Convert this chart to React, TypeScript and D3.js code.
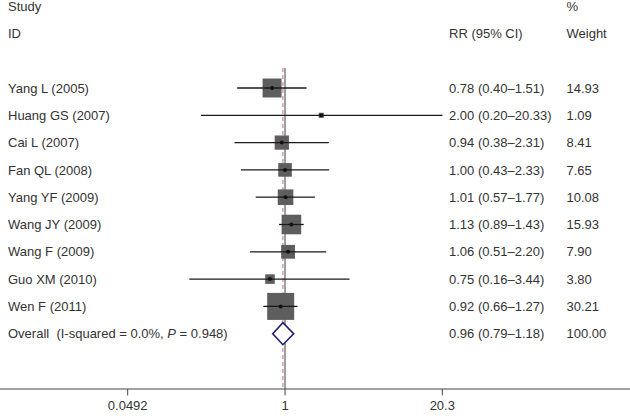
import React from "react";
import * as d3 from "d3";

const studies = [
  "Yang L (2005)",
  "Huang GS (2007)",
  "Cai L (2007)",
  "Fan QL (2008)",
  "Yang YF (2009)",
  "Wang JY (2009)",
  "Wang F (2009)",
  "Guo XM (2010)",
  "Wen F (2011)",
];
const rr = [0.78, 2.0, 0.94, 1.0, 1.01, 1.13, 1.06, 0.75, 0.92];
const lower = [0.4, 0.2, 0.38, 0.43, 0.57, 0.89, 0.51, 0.16, 0.66];
const upper = [1.51, 20.33, 2.31, 2.33, 1.77, 1.43, 2.2, 3.44, 1.27];
const weights = [14.93, 1.09, 8.41, 7.65, 10.08, 15.93, 7.9, 3.8, 30.21];
const overallRR = 0.96;
const overallLower = 0.79;
const overallUpper = 1.18;
const overallWeight = 100;
const overallLabel = "Overall  (I-squared = 0.0%, ";
const overallP = "0.948";
const tickValues = [0.0492, 1, 20.3];
const tickLabels = ["0.0492", "1", "20.3"];

const W = 630;
const H = 416;
const FONT = "'Liberation Sans', Arial, Helvetica, sans-serif";
const TEXT = "#333";

const fmt = (v: number) => v.toFixed(2);

export default function App() {
  const x = d3.scaleLog().domain([0.0492, 20.3]).range([127.7, 442.3]);
  const y = d3.scaleLinear().domain([0, 9]).range([88, 333.7]);
  const size = d3.scaleSqrt().domain([0, d3.max(weights) as number]).range([0, 27]);
  const axisY = 389;
  const lineTop = 68;
  const studyX = 8;
  const rrX = 449;
  const wX = 566.5;
  const textDy = 1.2;

  const oy = y(studies.length);
  const diamond = [
    [x(overallLower), oy],
    [x(overallRR), oy - 11],
    [x(overallUpper), oy],
    [x(overallRR), oy + 11],
  ];

  return (
    <div style={{ position: "absolute", left: 0, top: 0 }}>
      <svg width={W} height={H} style={{ display: "block", background: "#fff" }} fontFamily={FONT} fontSize={13}>
        {/* headers */}
        <text x={studyX} y={y(-3) + textDy} dominantBaseline="middle" fill={TEXT}>Study</text>
        <text x={studyX} y={y(-2) + textDy} dominantBaseline="middle" fill={TEXT}>ID</text>
        <text x={rrX} y={y(-2) + textDy} dominantBaseline="middle" fill={TEXT}>RR (95% CI)</text>
        <text x={wX} y={y(-3) + textDy} dominantBaseline="middle" fill={TEXT}>%</text>
        <text x={wX} y={y(-2) + textDy} dominantBaseline="middle" fill={TEXT}>Weight</text>

        {/* null line */}
        <line x1={x(1)} x2={x(1)} y1={lineTop} y2={axisY} stroke="#777" strokeWidth={1.4} />
        {/* overall dashed line */}
        <line
          x1={x(overallRR)}
          x2={x(overallRR)}
          y1={lineTop}
          y2={axisY}
          stroke="#c98a94"
          strokeWidth={1.2}
          strokeDasharray="4,3"
        />

        {studies.map((s, i) => {
          const cy = y(i);
          const sz = size(weights[i]);
          return (
            <g key={s}>
              <rect x={x(rr[i]) - sz / 2} y={cy - sz / 2} width={sz} height={sz} fill="#5e5e5e" />
              <line x1={x(lower[i])} x2={x(upper[i])} y1={cy} y2={cy} stroke="#1a1a1a" strokeWidth={1.3} />
              <circle cx={x(rr[i])} cy={cy} r={2} fill="#111" />
              <text x={studyX} y={cy + textDy} dominantBaseline="middle" fill={TEXT}>{s}</text>
              <text x={rrX} y={cy + textDy} dominantBaseline="middle" fill={TEXT}>
                {`${fmt(rr[i])} (${fmt(lower[i])}\u2013${fmt(upper[i])})`}
              </text>
              <text x={wX} y={cy + textDy} dominantBaseline="middle" fill={TEXT}>{fmt(weights[i])}</text>
            </g>
          );
        })}

        {/* overall */}
        <polygon
          points={diamond.map((p) => p.join(",")).join(" ")}
          fill="#fff"
          stroke="#1f1f6b"
          strokeWidth={1.6}
        />
        <text x={studyX} y={oy + textDy} dominantBaseline="middle" fill={TEXT} style={{ whiteSpace: "pre" }}>
          {overallLabel}
          <tspan fontStyle="italic">P</tspan>
          {` = ${overallP})`}
        </text>
        <text x={rrX} y={oy + textDy} dominantBaseline="middle" fill={TEXT}>
          {`${fmt(overallRR)} (${fmt(overallLower)}\u2013${fmt(overallUpper)})`}
        </text>
        <text x={wX} y={oy + textDy} dominantBaseline="middle" fill={TEXT}>{fmt(overallWeight)}</text>

        {/* axis */}
        <line x1={0} x2={W} y1={axisY} y2={axisY} stroke="#444" strokeWidth={1} />
        {tickValues.map((t, i) => (
          <g key={t}>
            <line x1={x(t)} x2={x(t)} y1={axisY} y2={axisY + 6.5} stroke="#444" strokeWidth={1} />
            <text x={x(t)} y={axisY + 17.5} textAnchor="middle" dominantBaseline="middle" fill={TEXT}>
              {tickLabels[i]}
            </text>
          </g>
        ))}
      </svg>
    </div>
  );
}
